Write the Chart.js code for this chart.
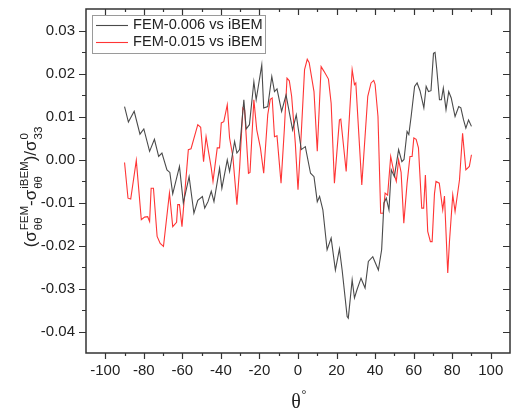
<!DOCTYPE html>
<html lang="en">
<head>
<meta charset="UTF-8">
<title>FEM vs iBEM hoop stress difference</title>
<script src="https://cdn.jsdelivr.net/npm/chart.js"></script>
<style>
  html, body { margin: 0; padding: 0; background: #fff; }
  .chart-box { width: 511px; height: 412px; }
</style>
</head>
<body>
<div class="chart-box"><canvas id="stressChart"></canvas></div>
<script>
// angle (deg) and normalised hoop stress difference, FEM mesh 0.006 vs iBEM
const theta006 = [
  -90, -88, -85, -82, -80, -77, -74.5, -72.3, -70.6, -68,
  -66.5, -65, -61.5, -59.5, -56.5, -54, -52, -49.6, -48.4, -46.7,
  -45, -43.6, -40.7, -39.5, -36.7, -35.5, -32.9, -31.7, -30.3, -28.1,
  -26.9, -25.2, -22.9, -21.7, -18.8, -17.8, -15.7, -13.6, -12.2, -10.9,
  -8.5, -6.2, -2.8, -0.9, 1.7, 3.8, 6.5, 8.3, 10, 11.2,
  12.9, 15.1, 17.2, 19.4, 21.5, 22.9, 25.5, 26.1, 28.1, 29.3,
  30.6, 32.7, 34.8, 36.5, 38.8, 41.7, 43.4, 44.6, 45.8, 47.2,
  48.4, 50, 52.2, 53.9, 55, 56.6, 57.5, 58.7, 60.5, 61.8,
  63.3, 65.3, 66.5, 67.7, 69, 70.3, 71.1, 72, 73.4, 74.4,
  75.4, 76.8, 78.2, 79.5, 81.5, 83.4, 84.5, 85.9, 87.1, 88.5,
  90
];
const diff006 = [
  0.0123, 0.0087, 0.0112, 0.0059, 0.0071, 0.0019, 0.0047, 0.0007, 0.0015, -0.0024,
  -0.0030, -0.0080, -0.0016, -0.0101, -0.0040, -0.0125, -0.0095, -0.0086, -0.0113, -0.0098,
  -0.0074, -0.0098, -0.0020, -0.0067, -0.0001, -0.0028, 0.0042, 0.0015, 0.0023, 0.0139,
  0.0071, 0.0081, 0.0181, 0.0139, 0.0220, 0.0120, 0.0123, 0.0193, 0.0158, 0.0164,
  0.0112, 0.0150, 0.0069, 0.0104, 0.0023, 0.0030, -0.0032, -0.0040, -0.0098, -0.0086,
  -0.0117, -0.0210, -0.0183, -0.0257, -0.0208, -0.0257, -0.0365, -0.0369, -0.0280, -0.0322,
  -0.0303, -0.0276, -0.0299, -0.0237, -0.0226, -0.0257, -0.0210, -0.0101, -0.0090, -0.0117,
  -0.0024, -0.0040, 0.0023, -0.0005, 0.0000, 0.0065, 0.0058, 0.0100, 0.0170, 0.0178,
  0.0160, 0.0120, 0.0170, 0.0158, 0.0160, 0.0247, 0.0249, 0.0210, 0.0139, 0.0139,
  0.0166, 0.0116, 0.0158, 0.0143, 0.0100, 0.0123, 0.0120, 0.0092, 0.0073, 0.0092,
  0.0077
];

// same for FEM mesh 0.015
const theta015 = [
  -90, -88.2, -86.8, -83.9, -81.3, -79.6, -78, -77, -76.2, -75,
  -73.1, -71.5, -69.8, -66.7, -65, -63, -62.4, -61.5, -60.2, -56.9,
  -55.5, -52, -50.5, -49, -47.7, -46.5, -45, -44.1, -41.9, -40.7,
  -39.8, -38.5, -36.7, -35.5, -33.8, -31.7, -30.3, -28.6, -27.7, -25.7,
  -24.9, -22.9, -21.4, -19.5, -17.8, -15.7, -14.4, -13.4, -12.2, -10.9,
  -8.8, -7.1, -5.7, -4.5, -3.3, -1.4, 0, 1.7, 3.4, 4.8,
  5.8, 8.3, 10, 12, 13.5, 15.8, 17.2, 18.9, 21.5, 22.2,
  25, 28.1, 29.3, 30, 33.1, 36.2, 37.9, 39.3, 40, 41.5,
  42.9, 44.2, 45.2, 46.5, 48.1, 50, 51, 52.2, 53.5, 54.9,
  56.6, 58.1, 59.2, 60.1, 61.3, 62.5, 64.2, 65.2, 66.1, 67.3,
  68.7, 69.6, 70.8, 71.6, 73.3, 75.1, 76, 77.7, 78.6, 80.3,
  81.5, 83.8, 85.4, 87.1, 88.9, 90
];
const diff015 = [
  -0.0007, -0.0090, -0.0092, -0.0002, -0.0140, -0.0134, -0.0133, -0.0144, -0.0067, -0.0067,
  -0.0179, -0.0195, -0.0202, -0.0078, -0.0156, -0.0146, -0.0105, -0.0105, -0.0156, 0.0023,
  0.0025, 0.0081, 0.0075, -0.0005, 0.0053, 0.0020, -0.0020, -0.0051, 0.0027, 0.0027,
  0.0085, 0.0088, 0.0127, 0.0050, 0.0007, -0.0105, -0.0020, 0.0120, 0.0115, -0.0032,
  -0.0030, 0.0139, 0.0069, 0.0027, -0.0032, 0.0104, 0.0140, 0.0143, 0.0053, 0.0055,
  -0.0055, 0.0069, 0.0189, 0.0183, 0.0147, 0.0038, -0.0070, 0.0061, 0.0209, 0.0233,
  0.0225, 0.0158, 0.0019, 0.0216, 0.0205, 0.0187, 0.0131, -0.0055, 0.0092, 0.0094,
  -0.0028, 0.0209, 0.0174, 0.0178, -0.0059, 0.0147, 0.0178, 0.0184, 0.0175, 0.0100,
  -0.0125, -0.0125, -0.0078, -0.0083, 0.0007, -0.0035, -0.0051, -0.0001, -0.0030, -0.0148,
  -0.0055, 0.0007, 0.0007, 0.0050, 0.0047, 0.0027, -0.0113, -0.0113, -0.0036, -0.0167,
  -0.0191, -0.0191, -0.0080, -0.0051, -0.0055, -0.0117, -0.0085, -0.0264, -0.0190, -0.0082,
  -0.0121, -0.0047, 0.0061, -0.0024, -0.0016, 0.0011
];

const seriesLabels = ['FEM-0.006 vs iBEM', 'FEM-0.015 vs iBEM'];
const xTicks = [-100, -80, -60, -40, -20, 0, 20, 40, 60, 80, 100];
const yTicks = [0.03, 0.02, 0.01, 0.00, -0.01, -0.02, -0.03, -0.04];

const pairs = (xs, ys) => xs.map((x, i) => ({ x, y: ys[i] }));
const midpoints = arr => arr.slice(1).map((v, i) => (v + arr[i]) / 2);

const SANS = '"Liberation Sans", Arial, sans-serif';
const AXIS = '#333';

// draws a run of text with stacked sub/superscripts along the current x axis
function richRun(ctx, parts, big, small, draw) {
  let w = 0;
  for (const p of parts) {
    if (p.t) {
      ctx.font = big;
      if (draw) ctx.fillText(p.t, w, 0);
      w += ctx.measureText(p.t).width;
    } else {
      ctx.font = small;
      const ws = ctx.measureText(p.sub).width, wp = ctx.measureText(p.sup).width;
      if (draw) {
        ctx.fillText(p.sub, w + 1, 6);
        ctx.fillText(p.sup, w + 1, -8);
      }
      w += Math.max(ws, wp) + 1;
    }
  }
  return w;
}

const decor = {
  id: 'decor',
  afterDraw(chart) {
    const { ctx, chartArea: a, scales: { x, y } } = chart;
    ctx.save();

    // frame
    ctx.strokeStyle = AXIS;
    ctx.lineWidth = 1.5;
    ctx.strokeRect(a.left, a.top, a.right - a.left, a.bottom - a.top);

    // tick marks: outward on bottom/left, inward on top/right
    ctx.lineWidth = 1.2;
    ctx.beginPath();
    const xt = (v, len) => {
      const px = Math.round(x.getPixelForValue(v)) + 0.5;
      ctx.moveTo(px, a.bottom); ctx.lineTo(px, a.bottom + len);
      ctx.moveTo(px, a.top); ctx.lineTo(px, a.top + len);
    };
    const yt = (v, len) => {
      const py = Math.round(y.getPixelForValue(v)) + 0.5;
      ctx.moveTo(a.left, py); ctx.lineTo(a.left - len, py);
      ctx.moveTo(a.right, py); ctx.lineTo(a.right - len, py);
    };
    xTicks.forEach(v => xt(v, 6));
    midpoints(xTicks).forEach(v => xt(v, 3));
    yTicks.forEach(v => yt(v, 7));
    midpoints(yTicks).forEach(v => yt(v, 4));
    ctx.stroke();

    // legend
    ctx.strokeStyle = '#9a9a9a';
    ctx.lineWidth = 1;
    ctx.strokeRect(92.5, 15.5, 173, 38);
    ctx.font = '14.6px ' + SANS;
    ctx.textBaseline = 'middle';
    ctx.textAlign = 'left';
    chart.data.datasets.forEach((ds, i) => {
      const ly = 25 + i * 17;
      ctx.strokeStyle = ds.borderColor;
      ctx.lineWidth = ds.borderWidth;
      ctx.beginPath();
      ctx.moveTo(96, ly + 0.5); ctx.lineTo(128, ly + 0.5);
      ctx.stroke();
      ctx.fillStyle = '#222';
      ctx.fillText(ds.label, 133, ly);
    });

    // y title: (σθθ^FEM - σθθ^iBEM)/σ33^0
    const parts = [
      { t: '(' }, { t: 'σ' }, { sub: 'θθ', sup: 'FEM' }, { t: '-' },
      { t: 'σ' }, { sub: 'θθ', sup: 'iBEM' }, { t: ')/' },
      { t: 'σ' }, { sub: '33', sup: '0' }
    ];
    const big = '17px ' + SANS, small = '11.5px ' + SANS;
    ctx.fillStyle = '#222';
    ctx.textBaseline = 'alphabetic';
    const tw = richRun(ctx, parts, big, small, false);
    ctx.save();
    ctx.translate(36, 187 + tw / 2);
    ctx.rotate(-Math.PI / 2);
    richRun(ctx, parts, big, small, true);
    ctx.restore();

    // x title: θ°
    ctx.font = '20px "Liberation Serif", serif';
    ctx.textAlign = 'center';
    ctx.fillText('θ', 296, 408);
    ctx.font = '12px "Liberation Serif", serif';
    ctx.fillText('°', 304, 398);

    ctx.restore();
  }
};

new Chart(document.getElementById('stressChart').getContext('2d'), {
  type: 'line',
  data: {
    datasets: [
      {
        label: seriesLabels[0],
        data: pairs(theta006, diff006),
        borderColor: '#4a4a4a',
        borderWidth: 1.1,
        pointRadius: 0,
        tension: 0
      },
      {
        label: seriesLabels[1],
        data: pairs(theta015, diff015),
        borderColor: '#ff3535',
        borderWidth: 1.1,
        pointRadius: 0,
        tension: 0
      }
    ]
  },
  options: {
    responsive: true,
    maintainAspectRatio: false,
    animation: false,
    layout: { padding: { top: 9, right: 1, left: 0, bottom: 0 } },
    plugins: {
      legend: { display: false },
      tooltip: { enabled: false }
    },
    scales: {
      x: {
        type: 'linear',
        min: -110,
        max: 110,
        afterBuildTicks: s => { s.ticks = xTicks.map(v => ({ value: v })); },
        afterFit: s => { s.height = 59; s.paddingLeft = 0; s.paddingRight = 0; },
        grid: { display: false, drawTicks: false },
        border: { display: false },
        ticks: {
          autoSkip: false,
          maxRotation: 0,
          padding: 9,
          color: '#222',
          font: { family: SANS, size: 15 }
        }
      },
      y: {
        type: 'linear',
        min: -0.045,
        max: 0.035,
        afterBuildTicks: s => { s.ticks = yTicks.map(v => ({ value: v })); },
        afterFit: s => { s.width = 86; s.paddingTop = 0; s.paddingBottom = 0; },
        grid: { display: false, drawTicks: false },
        border: { display: false },
        ticks: {
          autoSkip: false,
          padding: 11,
          color: '#222',
          font: { family: SANS, size: 15 },
          callback: v => v.toFixed(2)
        }
      }
    }
  },
  plugins: [decor]
});
</script>
</body>
</html>
